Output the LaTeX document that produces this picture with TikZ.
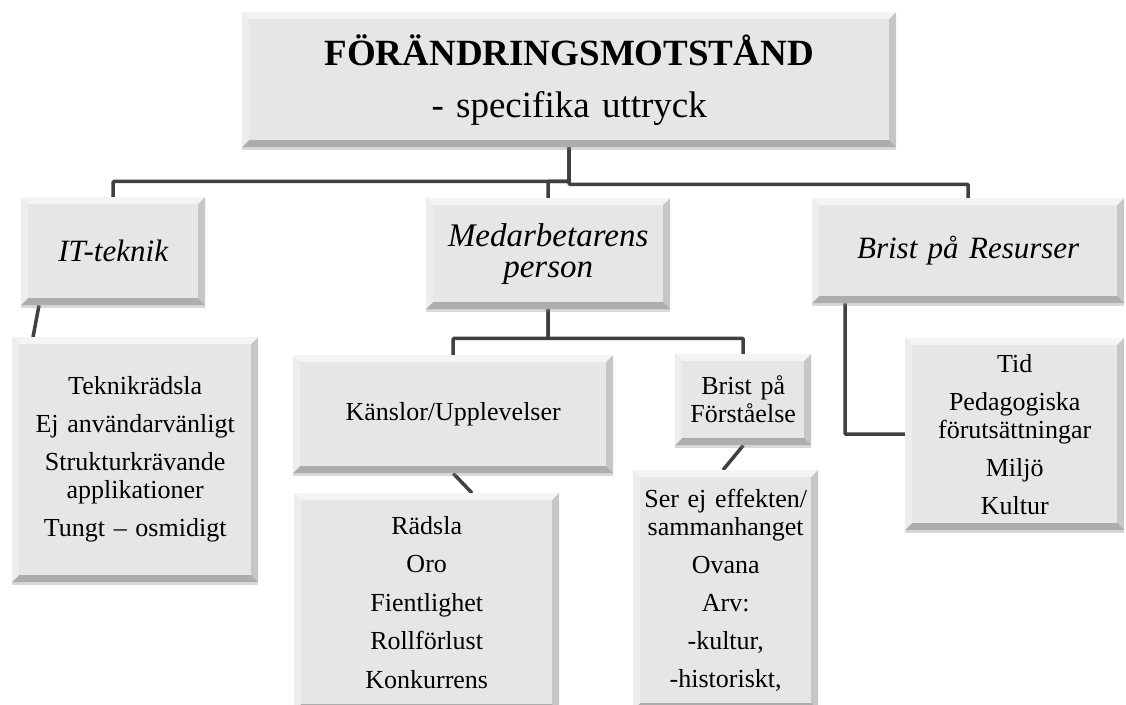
\documentclass[tikz,border=0pt]{standalone}
\usepackage{fontspec}
\setmainfont{Liberation Serif}
\usetikzlibrary{positioning,shadows,backgrounds}

\definecolor{boxgray}{HTML}{E6E6E6}
\definecolor{linegray}{HTML}{404040}
\definecolor{bvtop}{HTML}{F4F4F4}
\definecolor{bvleft}{HTML}{EDEDED}
\definecolor{bvright}{HTML}{C6C6C6}
\definecolor{bvbottom}{HTML}{ADADAD}

% bevelled edges of the SmartArt boxes
\newcommand\bevelbox{%
  \path (path picture bounding box.north west) coordinate (bv nw)
        (path picture bounding box.north east) coordinate (bv ne)
        (path picture bounding box.south east) coordinate (bv se)
        (path picture bounding box.south west) coordinate (bv sw);
  \fill[bvtop] (bv nw) -- (bv ne) -- ([shift={(-7pt,-7pt)}]bv ne) -- ([shift={(7pt,-7pt)}]bv nw) -- cycle;
  \fill[bvleft] (bv nw) -- (bv sw) -- ([shift={(7pt,7pt)}]bv sw) -- ([shift={(7pt,-7pt)}]bv nw) -- cycle;
  \fill[bvright] (bv ne) -- (bv se) -- ([shift={(-7pt,7pt)}]bv se) -- ([shift={(-7pt,-7pt)}]bv ne) -- cycle;
  \fill[bvbottom] (bv sw) -- (bv se) -- ([shift={(-7pt,7pt)}]bv se) -- ([shift={(7pt,7pt)}]bv sw) -- cycle;
}

\begin{document}
\begin{tikzpicture}[x=1pt,y=-1pt,
  box/.style={rectangle,fill=boxgray,anchor=north west,inner sep=0pt,align=center,
    font=\fontsize{26}{28}\selectfont,
    drop shadow={shadow xshift=0pt,shadow yshift=-3pt,opacity=.3},
    path picture={\bevelbox}},
  boxsize/.style 2 args={minimum width=#1pt,text width=#1pt,minimum height=#2pt},
  head/.style={font=\itshape\fontsize{31}{31}\selectfont},
  conn/.style={draw=linegray,line width=3.5pt,rounded corners=1pt}]
  \path[use as bounding box] (0,0) rectangle (1126,704);
  \clip (0,0) rectangle (1126,704);

  % top
  \node[box,boxsize={654}{135},font=\fontsize{37}{52}\selectfont] (top) at (242,12)
    {\textbf{FÖRÄNDRINGSMOTSTÅND}\\- specifika uttryck};

  % level 2
  \node[box,head,boxsize={184}{108}] (it) at (21,197) {IT-teknik};
  \node[box,boxsize={244}{111},font=\itshape\fontsize{33}{31}\selectfont] (med) at (426,198)
    {Medarbetarens\\person};
  \node[box,head,boxsize={312}{105}] (brist) at (812,198) {Brist på Resurser};

  % level 3
  \node[box,boxsize={246}{245}] (teknik) at (12,337)
    {Teknikrädsla\\[10pt]Ej användarvänligt\\[10pt]Strukturkrävande\\applikationer\\[10pt]Tungt – osmidigt};
  \node[box,boxsize={320}{118}] (kansl) at (293,355) {Känslor/Upplevelser};
  \node[box,boxsize={136}{91}] (forst) at (675,354) {Brist på\\Förståelse};
  \node[box,boxsize={219}{192}] (tid) at (905,338)
    {Tid\\[10pt]Pedagogiska\\förutsättningar\\[10pt]Miljö\\[10pt]Kultur};

  % level 4
  \node[box,boxsize={265}{218}] (radsla) at (294,493)
    {Rädsla\\[10.5pt]Oro\\[10.5pt]Fientlighet\\[10.5pt]Rollförlust\\[10.5pt]Konkurrens};
  \node[box,boxsize={185}{240}] (serej) at (633,470)
    {Ser ej effekten/\\sammanhanget\\[10pt]Ovana\\[10pt]Arv:\\[10pt]-kultur,\\[10pt]-historiskt,};

  % connectors
  \begin{scope}[on background layer]
    \fill[white] (0,0) rectangle (1126,704);
    \draw[conn] (top.south) -- ++(0,34) -| (it.north);
    \draw[conn] (top.south) -- ++(0,34) -| (med.north);
    \draw[conn] (top.south) -- ++(0,37) -| (brist.north);
    \draw[conn] ([xshift=18pt]it.south west) -- ([xshift=21pt]teknik.north west);
    \draw[conn] (med.south) -- ++(0,29) -| (kansl.north);
    \draw[conn] (med.south) -- ++(0,29) -| (forst.north);
    \draw[conn] ([xshift=33pt]brist.south west) |- (tid.west);
    \draw[conn] (kansl.south) -- ([xshift=178pt]radsla.north west);
    \draw[conn] (forst.south) -- ([xshift=90pt]serej.north west);
  \end{scope}
\end{tikzpicture}
\end{document}
